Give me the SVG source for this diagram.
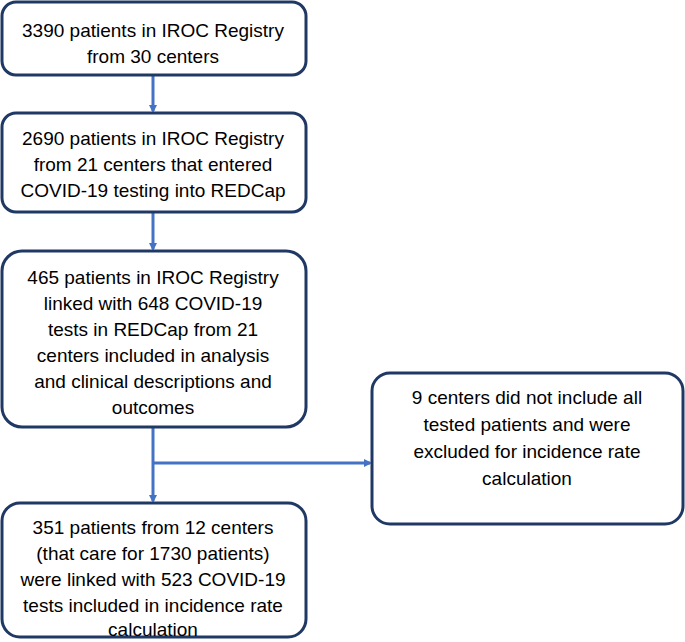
<svg xmlns="http://www.w3.org/2000/svg" width="685" height="642" viewBox="0 0 685 642">
<defs>
<style>
.b{fill:#fff;stroke:#203864;stroke-width:3}
.t{font-family:"Liberation Sans",Arial,sans-serif;font-size:19px;fill:#000;text-anchor:middle;dominant-baseline:central}
.c{stroke:#4472C4;stroke-width:3;fill:none}
</style>
<marker id="a" markerWidth="8" markerHeight="8" refX="6" refY="4" orient="auto" markerUnits="userSpaceOnUse" viewBox="0 0 8 8"><path d="M0,0 L8,4 L0,8 z" fill="#4472C4"/></marker>
</defs>
<g id="connectors">
<line class="c" x1="153" y1="75" x2="153" y2="111" marker-end="url(#a)"/>
<line class="c" x1="153" y1="212" x2="153" y2="249" marker-end="url(#a)"/>
<line class="c" x1="153" y1="427" x2="153" y2="501" marker-end="url(#a)"/>
<line class="c" x1="153" y1="463" x2="370" y2="463" marker-end="url(#a)"/>
</g>
<g id="n1"><rect class="b" x="2" y="2" width="304" height="73" rx="14"/>
<text class="t" x="153" y="30">3390 patients in IROC Registry</text><text class="t" x="153" y="56">from 30 centers</text></g>
<g id="n2"><rect class="b" x="2" y="113" width="304" height="99" rx="14"/>
<text class="t" x="153" y="138">2690 patients in IROC Registry</text><text class="t" x="153" y="164">from 21 centers that entered</text><text class="t" x="153" y="190">COVID-19 testing into REDCap</text></g>
<g id="n3"><rect class="b" x="2" y="251" width="304" height="176" rx="20"/>
<text class="t" x="153" y="277">465 patients in IROC Registry</text><text class="t" x="153" y="303">linked with 648 COVID-19</text><text class="t" x="153" y="329">tests in REDCap from 21</text><text class="t" x="153" y="355">centers included in analysis</text><text class="t" x="153" y="381">and clinical descriptions and</text><text class="t" x="153" y="407">outcomes</text></g>
<g id="n4"><rect class="b" x="372" y="373" width="311" height="151" rx="18"/>
<text class="t" x="527" y="397">9 centers did not include all</text><text class="t" x="527" y="424">tested patients and were</text><text class="t" x="527" y="451">excluded for incidence rate</text><text class="t" x="527" y="478">calculation</text></g>
<g id="n5"><rect class="b" x="2" y="503" width="304" height="134" rx="18"/>
<text class="t" x="153" y="527">351 patients from 12 centers</text><text class="t" x="153" y="553">(that care for 1730 patients)</text><text class="t" x="153" y="579">were linked with 523 COVID-19</text><text class="t" x="153" y="605">tests included in incidence rate</text><text class="t" x="153" y="629">calculation</text></g>
</svg>
